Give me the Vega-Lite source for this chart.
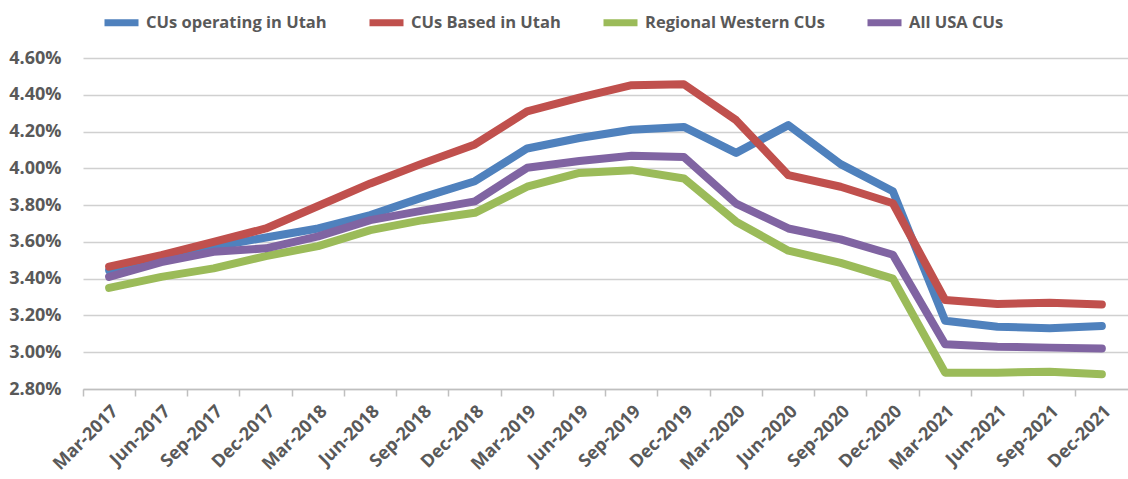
{
  "$schema": "https://vega.github.io/schema/vega-lite/v6.json",
  "width": 1045,
  "height": 331,
  "autosize": "none",
  "padding": {"left": 83, "top": 58, "right": 0, "bottom": 90},
  "background": "white",
  "config": {
    "view": {"stroke": null},
    "font": "Open Sans"
  },
  "data": {
    "values": [
      {"q": "Mar-2017", "s": "CUs operating in Utah", "v": 3.445},
      {"q": "Jun-2017", "s": "CUs operating in Utah", "v": 3.51},
      {"q": "Sep-2017", "s": "CUs operating in Utah", "v": 3.573},
      {"q": "Dec-2017", "s": "CUs operating in Utah", "v": 3.624},
      {"q": "Mar-2018", "s": "CUs operating in Utah", "v": 3.673},
      {"q": "Jun-2018", "s": "CUs operating in Utah", "v": 3.746},
      {"q": "Sep-2018", "s": "CUs operating in Utah", "v": 3.842},
      {"q": "Dec-2018", "s": "CUs operating in Utah", "v": 3.93},
      {"q": "Mar-2019", "s": "CUs operating in Utah", "v": 4.108},
      {"q": "Jun-2019", "s": "CUs operating in Utah", "v": 4.165},
      {"q": "Sep-2019", "s": "CUs operating in Utah", "v": 4.21},
      {"q": "Dec-2019", "s": "CUs operating in Utah", "v": 4.225},
      {"q": "Mar-2020", "s": "CUs operating in Utah", "v": 4.084},
      {"q": "Jun-2020", "s": "CUs operating in Utah", "v": 4.235},
      {"q": "Sep-2020", "s": "CUs operating in Utah", "v": 4.023},
      {"q": "Dec-2020", "s": "CUs operating in Utah", "v": 3.875},
      {"q": "Mar-2021", "s": "CUs operating in Utah", "v": 3.171},
      {"q": "Jun-2021", "s": "CUs operating in Utah", "v": 3.139},
      {"q": "Sep-2021", "s": "CUs operating in Utah", "v": 3.13},
      {"q": "Dec-2021", "s": "CUs operating in Utah", "v": 3.142},
      {"q": "Mar-2017", "s": "CUs Based in Utah", "v": 3.465},
      {"q": "Jun-2017", "s": "CUs Based in Utah", "v": 3.528},
      {"q": "Sep-2017", "s": "CUs Based in Utah", "v": 3.6},
      {"q": "Dec-2017", "s": "CUs Based in Utah", "v": 3.673},
      {"q": "Mar-2018", "s": "CUs Based in Utah", "v": 3.795},
      {"q": "Jun-2018", "s": "CUs Based in Utah", "v": 3.918},
      {"q": "Sep-2018", "s": "CUs Based in Utah", "v": 4.027},
      {"q": "Dec-2018", "s": "CUs Based in Utah", "v": 4.13},
      {"q": "Mar-2019", "s": "CUs Based in Utah", "v": 4.31},
      {"q": "Jun-2019", "s": "CUs Based in Utah", "v": 4.385},
      {"q": "Sep-2019", "s": "CUs Based in Utah", "v": 4.452},
      {"q": "Dec-2019", "s": "CUs Based in Utah", "v": 4.457},
      {"q": "Mar-2020", "s": "CUs Based in Utah", "v": 4.262},
      {"q": "Jun-2020", "s": "CUs Based in Utah", "v": 3.963},
      {"q": "Sep-2020", "s": "CUs Based in Utah", "v": 3.9},
      {"q": "Dec-2020", "s": "CUs Based in Utah", "v": 3.81},
      {"q": "Mar-2021", "s": "CUs Based in Utah", "v": 3.284},
      {"q": "Jun-2021", "s": "CUs Based in Utah", "v": 3.262},
      {"q": "Sep-2021", "s": "CUs Based in Utah", "v": 3.269},
      {"q": "Dec-2021", "s": "CUs Based in Utah", "v": 3.26},
      {"q": "Mar-2017", "s": "Regional Western CUs", "v": 3.35},
      {"q": "Jun-2017", "s": "Regional Western CUs", "v": 3.41},
      {"q": "Sep-2017", "s": "Regional Western CUs", "v": 3.456},
      {"q": "Dec-2017", "s": "Regional Western CUs", "v": 3.523},
      {"q": "Mar-2018", "s": "Regional Western CUs", "v": 3.577},
      {"q": "Jun-2018", "s": "Regional Western CUs", "v": 3.664},
      {"q": "Sep-2018", "s": "Regional Western CUs", "v": 3.718},
      {"q": "Dec-2018", "s": "Regional Western CUs", "v": 3.758},
      {"q": "Mar-2019", "s": "Regional Western CUs", "v": 3.9},
      {"q": "Jun-2019", "s": "Regional Western CUs", "v": 3.975},
      {"q": "Sep-2019", "s": "Regional Western CUs", "v": 3.99},
      {"q": "Dec-2019", "s": "Regional Western CUs", "v": 3.945},
      {"q": "Mar-2020", "s": "Regional Western CUs", "v": 3.71},
      {"q": "Jun-2020", "s": "Regional Western CUs", "v": 3.552},
      {"q": "Sep-2020", "s": "Regional Western CUs", "v": 3.486},
      {"q": "Dec-2020", "s": "Regional Western CUs", "v": 3.4},
      {"q": "Mar-2021", "s": "Regional Western CUs", "v": 2.889},
      {"q": "Jun-2021", "s": "Regional Western CUs", "v": 2.889},
      {"q": "Sep-2021", "s": "Regional Western CUs", "v": 2.894},
      {"q": "Dec-2021", "s": "Regional Western CUs", "v": 2.88},
      {"q": "Mar-2017", "s": "All USA CUs", "v": 3.41},
      {"q": "Jun-2017", "s": "All USA CUs", "v": 3.49},
      {"q": "Sep-2017", "s": "All USA CUs", "v": 3.546},
      {"q": "Dec-2017", "s": "All USA CUs", "v": 3.565},
      {"q": "Mar-2018", "s": "All USA CUs", "v": 3.63},
      {"q": "Jun-2018", "s": "All USA CUs", "v": 3.718},
      {"q": "Sep-2018", "s": "All USA CUs", "v": 3.77},
      {"q": "Dec-2018", "s": "All USA CUs", "v": 3.82},
      {"q": "Mar-2019", "s": "All USA CUs", "v": 4.003},
      {"q": "Jun-2019", "s": "All USA CUs", "v": 4.04},
      {"q": "Sep-2019", "s": "All USA CUs", "v": 4.068},
      {"q": "Dec-2019", "s": "All USA CUs", "v": 4.062},
      {"q": "Mar-2020", "s": "All USA CUs", "v": 3.808},
      {"q": "Jun-2020", "s": "All USA CUs", "v": 3.673},
      {"q": "Sep-2020", "s": "All USA CUs", "v": 3.614},
      {"q": "Dec-2020", "s": "All USA CUs", "v": 3.53},
      {"q": "Mar-2021", "s": "All USA CUs", "v": 3.043},
      {"q": "Jun-2021", "s": "All USA CUs", "v": 3.03},
      {"q": "Sep-2021", "s": "All USA CUs", "v": 3.025},
      {"q": "Dec-2021", "s": "All USA CUs", "v": 3.02}
    ]
  },
  "mark": {"type": "line", "strokeWidth": 8, "strokeCap": "round", "strokeJoin": "round"},
  "encoding": {
    "x": {
      "field": "q",
      "type": "ordinal",
      "sort": null,
      "bandPosition": 0.5,
      "scale": {"type": "band", "paddingInner": 0, "paddingOuter": 0},
      "axis": {
        "title": null,
        "bandPosition": 0,
        "labelAngle": -45,
        "labelFontSize": 18,
        "labelFontWeight": "bold",
        "labelColor": "#595959",
        "labelPadding": 6,
        "labelLimit": 200,
        "domainColor": "#bfbfbf",
        "domainWidth": 1.5,
        "tickColor": "#bfbfbf",
        "tickWidth": 1.5,
        "tickSize": 7,
        "grid": false
      }
    },
    "y": {
      "field": "v",
      "type": "quantitative",
      "scale": {"domain": [2.8, 4.6], "nice": false, "zero": false},
      "axis": {
        "title": null,
        "values": [2.8, 3.0, 3.2, 3.4, 3.6, 3.8, 4.0, 4.2, 4.4, 4.6],
        "labelExpr": "format(datum.value, '.2f') + '%'",
        "labelFontSize": 18,
        "labelFontWeight": "bold",
        "labelColor": "#595959",
        "labelPadding": 22,
        "domain": false,
        "ticks": false,
        "grid": true,
        "gridColor": "#d0d0d0",
        "gridWidth": 1.5
      }
    },
    "color": {
      "field": "s",
      "type": "nominal",
      "sort": null,
      "scale": {
        "domain": ["CUs operating in Utah", "CUs Based in Utah", "Regional Western CUs", "All USA CUs"],
        "range": ["#4F81BD", "#C0504D", "#9BBB59", "#8064A2"]
      },
      "legend": {
        "title": null,
        "orient": "none",
        "direction": "horizontal",
        "legendX": 18,
        "legendY": -56,
        "symbolType": "stroke",
        "symbolStrokeWidth": 7,
        "symbolSize": 1156,
        "labelFontSize": 16.5,
        "labelFontWeight": "bold",
        "labelColor": "#595959",
        "labelOffset": 4,
        "labelLimit": 400,
        "columnPadding": 28
      }
    }
  }
}
